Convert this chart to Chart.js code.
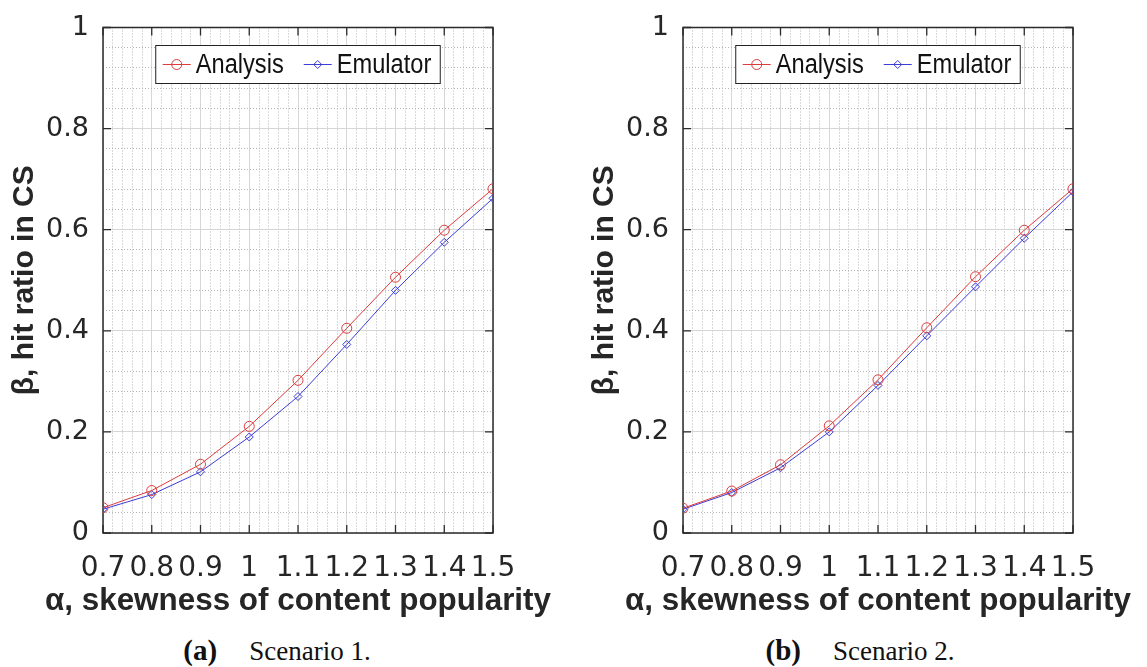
<!DOCTYPE html>
<html>
<head>
<meta charset="utf-8">
<script src="https://cdn.jsdelivr.net/npm/chart.js@4.4.0/dist/chart.umd.min.js"></script>
<style>
  body { margin: 0; background: #fff; width: 1147px; height: 667px; overflow: hidden; position: relative; }
  .panel { position: absolute; top: 0; width: 567px; height: 625px; }
  .caption { position: absolute; top: 634px; font-family: "Liberation Serif", "Times New Roman", serif; font-size: 27px; color: #111; white-space: nowrap; transform: translateX(-50%); }
  .caption b { font-size: 29px; margin-right: 32px; }
</style>
</head>
<body>
<div class="panel" style="left:0"><canvas id="chartA"></canvas></div>
<div class="panel" style="left:580px"><canvas id="chartB"></canvas></div>
<div class="caption" style="left:277px"><b>(a)</b>Scenario 1.</div>
<div class="caption" style="left:860px"><b>(b)</b>Scenario 2.</div>

<script>
// skewness values on the x axis
const alphaValues = [0.7, 0.8, 0.9, 1.0, 1.1, 1.2, 1.3, 1.4, 1.5];
const xTickLabels = ['0.7', '0.8', '0.9', '1', '1.1', '1.2', '1.3', '1.4', '1.5'];
const yTickValues = [0, 0.2, 0.4, 0.6, 0.8, 1];
const yTickLabels = ['0', '0.2', '0.4', '0.6', '0.8', '1'];

// hit ratio
const analysisScenario1 = [0.050, 0.084, 0.136, 0.211, 0.302, 0.405, 0.506, 0.599, 0.681];
const emulatorScenario1 = [0.047, 0.076, 0.121, 0.190, 0.270, 0.373, 0.480, 0.575, 0.662];
const analysisScenario2 = [0.049, 0.083, 0.135, 0.212, 0.303, 0.406, 0.507, 0.599, 0.681];
const emulatorScenario2 = [0.047, 0.080, 0.129, 0.200, 0.292, 0.390, 0.487, 0.583, 0.675];

const seriesNames = ['Analysis', 'Emulator'];
const xTitle = 'α, skewness of content popularity';
const yTitle = 'β, hit ratio in CS';
const RED = '#dc3c3c';
const BLUE = '#3c3cd8';
const AXIS_FONT = '"DejaVu Sans", sans-serif';
const LEGEND_FONT = '"Liberation Sans", Arial, sans-serif';

// minor grid every 0.02 on x and 0.04 on y
const minorX = [];
for (let k = 0; k <= 40; k++) minorX.push(+(0.7 + k * 0.02).toFixed(2));
const minorY = [];
for (let k = 0; k <= 25; k++) minorY.push(+(k * 0.04).toFixed(2));

function isMajor(v, step) {
    const r = v / step;
    return Math.abs(r - Math.round(r)) < 1e-6;
}

// box around plot with inward ticks, like MATLAB
const framePlugin = {
    id: 'frame',
    beforeDatasetsDraw(chart) {
        const { ctx, chartArea: a, scales } = chart;
        ctx.save();
        ctx.strokeStyle = '#2b2b2b';
        ctx.lineWidth = 1.5;
        ctx.strokeRect(a.left, a.top, a.right - a.left, a.bottom - a.top);
        ctx.lineWidth = 1.3;
        ctx.beginPath();
        alphaValues.forEach(v => {
            const px = scales.x.getPixelForValue(v);
            ctx.moveTo(px, a.bottom); ctx.lineTo(px, a.bottom - 8);
            ctx.moveTo(px, a.top); ctx.lineTo(px, a.top + 8);
        });
        yTickValues.forEach(v => {
            const py = scales.y.getPixelForValue(v);
            ctx.moveTo(a.left, py); ctx.lineTo(a.left + 8, py);
            ctx.moveTo(a.right, py); ctx.lineTo(a.right - 8, py);
        });
        ctx.stroke();
        ctx.restore();
    }
};

// x title is wider than the plot, and the built-in axis title squeezes it to fit,
// so it is drawn here instead (stretched to ~506px like the original)
const xTitlePlugin = {
    id: 'xTitle',
    afterDraw(chart) {
        const { ctx, chartArea: a } = chart;
        ctx.save();
        ctx.font = 'bold 31px ' + LEGEND_FONT;
        const sx = 506 / ctx.measureText(xTitle).width;
        ctx.translate((a.left + a.right) / 2, a.bottom + 68);
        ctx.scale(sx, 1);
        ctx.fillStyle = '#262626';
        ctx.textAlign = 'center';
        ctx.textBaseline = 'middle';
        ctx.fillText(xTitle, 0, 0);
        ctx.restore();
    }
};

// boxed legend inside the plot, centred near the top (text a bit condensed)
const boxLegendPlugin = {
    id: 'boxLegend',
    afterDatasetsDraw(chart) {
        const { ctx, chartArea: a } = chart;
        const sets = chart.data.datasets;
        const squeeze = 0.875;
        ctx.save();
        ctx.font = '27px ' + LEGEND_FONT;
        const padL = 7, lineLen = 28, gap = 5, itemGap = 20, padR = 9;
        const widths = sets.map(d => ctx.measureText(d.label).width * squeeze);
        let total = padL + padR + itemGap * (sets.length - 1);
        widths.forEach(w => total += lineLen + gap + w);
        const h = 38;
        const left = (a.left + a.right) / 2 - total / 2;
        const top = a.top + 18;
        ctx.fillStyle = '#fff';
        ctx.fillRect(left, top, total, h);
        ctx.strokeStyle = '#222';
        ctx.lineWidth = 1;
        ctx.strokeRect(left, top, total, h);
        const cy = top + h / 2;
        let x = left + padL;
        sets.forEach((d, i) => {
            ctx.strokeStyle = d.borderColor;
            ctx.lineWidth = 1;
            ctx.beginPath();
            ctx.moveTo(x, cy); ctx.lineTo(x + lineLen, cy);
            ctx.stroke();
            ctx.fillStyle = 'rgba(0,0,0,0)';
            Chart.helpers.drawPoint(ctx, {
                pointStyle: d.pointStyle, radius: d.pointRadius, rotation: 0, borderWidth: 1
            }, x + lineLen / 2, cy);
            x += lineLen + gap;
            ctx.save();
            ctx.translate(x, cy + 1);
            ctx.scale(squeeze, 1);
            ctx.fillStyle = '#111';
            ctx.textBaseline = 'middle';
            ctx.fillText(d.label, 0, 0);
            ctx.restore();
            x += widths[i] + itemGap;
        });
        ctx.restore();
    }
};

function makeChart(id, analysis, emulator) {
    const ctx = document.getElementById(id).getContext('2d');
    return new Chart(ctx, {
        type: 'line',
        data: {
            datasets: [{
                label: seriesNames[0],
                data: alphaValues.map((x, i) => ({ x: x, y: analysis[i] })),
                borderColor: RED,
                borderWidth: 1,
                pointStyle: 'circle',
                pointRadius: 5,
                pointBorderWidth: 1,
                pointBackgroundColor: 'rgba(0,0,0,0)',
                pointBorderColor: RED,
                tension: 0
            }, {
                label: seriesNames[1],
                data: alphaValues.map((x, i) => ({ x: x, y: emulator[i] })),
                borderColor: BLUE,
                borderWidth: 1,
                pointStyle: 'rectRot',
                pointRadius: 4,
                pointBorderWidth: 1,
                pointBackgroundColor: 'rgba(0,0,0,0)',
                pointBorderColor: BLUE,
                tension: 0
            }]
        },
        options: {
            responsive: true,
            maintainAspectRatio: false,
            animation: false,
            layout: { padding: { top: 19, right: 74, bottom: 0, left: 0 } },
            plugins: { legend: { display: false }, tooltip: { enabled: false } },
            scales: {
                x: {
                    type: 'linear', position: 'bottom', min: 0.7, max: 1.5,
                    afterBuildTicks: s => { s.ticks = alphaValues.map(v => ({ value: v })); },
                    afterFit: s => { s.height = 92; },
                    ticks: {
                        autoSkip: false, maxRotation: 0, padding: 22, color: '#262626',
                        font: { family: AXIS_FONT, size: 28, lineHeight: 1 },
                        callback: (v, i) => xTickLabels[i]
                    },
                    grid: { color: '#d6d6d6', lineWidth: 1, drawTicks: false },
                    border: { display: false },
                    title: { display: false }
                },
                xm: {
                    type: 'linear', position: 'bottom', min: 0.7, max: 1.5,
                    afterBuildTicks: s => { s.ticks = minorX.map(v => ({ value: v })); },
                    afterFit: s => { s.height = 0; },
                    ticks: { display: false },
                    grid: {
                        color: c => isMajor(c.tick.value, 0.1) ? 'rgba(0,0,0,0)' : '#b5b5b5',
                        lineWidth: 1, drawTicks: false
                    },
                    border: { display: false, dash: [1, 2] }
                },
                y: {
                    type: 'linear', position: 'left', min: 0, max: 1,
                    afterBuildTicks: s => { s.ticks = yTickValues.map(v => ({ value: v })); },
                    afterFit: s => { s.width = 103; },
                    ticks: {
                        padding: 14, color: '#262626',
                        font: { family: AXIS_FONT, size: 27, lineHeight: 1 },
                        callback: (v, i) => yTickLabels[i]
                    },
                    grid: { color: '#d6d6d6', lineWidth: 1, drawTicks: false },
                    border: { display: false },
                    title: {
                        display: true, text: yTitle, color: '#262626',
                        font: { family: LEGEND_FONT, size: 30, weight: 'bold', lineHeight: 1 },
                        padding: { top: 10, bottom: 0 }
                    }
                },
                ym: {
                    type: 'linear', position: 'left', min: 0, max: 1,
                    afterBuildTicks: s => { s.ticks = minorY.map(v => ({ value: v })); },
                    afterFit: s => { s.width = 0; },
                    ticks: { display: false },
                    grid: {
                        color: c => isMajor(c.tick.value, 0.2) ? 'rgba(0,0,0,0)' : '#b5b5b5',
                        lineWidth: 1, drawTicks: false
                    },
                    border: { display: false, dash: [1, 2] }
                }
            }
        },
        plugins: [framePlugin, xTitlePlugin, boxLegendPlugin]
    });
}

makeChart('chartA', analysisScenario1, emulatorScenario1);
makeChart('chartB', analysisScenario2, emulatorScenario2);
</script>
</body>
</html>
